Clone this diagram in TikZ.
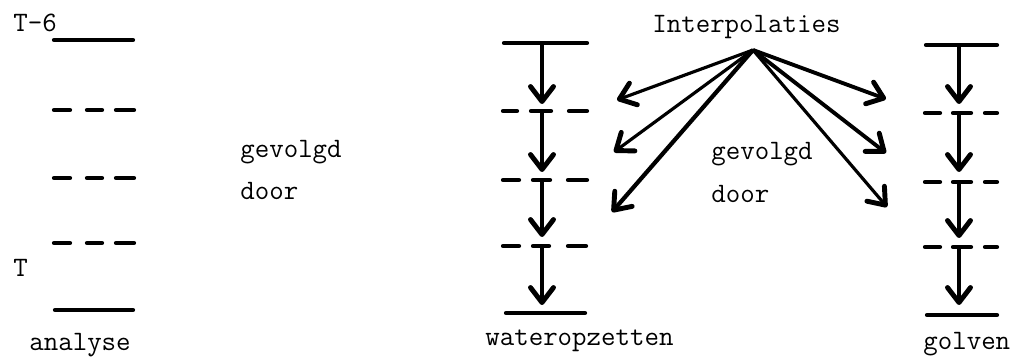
\documentclass[tikz,border=0pt]{standalone}
\usetikzlibrary{arrows.meta}
\begin{document}
\begin{tikzpicture}[x=0.02cm,y=-0.02cm,
  lvl/.style={line width=2.4pt,line cap=round},
  arr/.style={line width=2pt,-{Straight Barb[length=0.3cm,width=0.46cm,line width=2.8pt,round]}},
  fan/.style={line width=1.8pt,-{Straight Barb[length=0.3cm,width=0.46cm,line width=2.8pt,round]}},
  lab/.style={anchor=base west,inner sep=0pt,font=\fontsize{16}{19}\selectfont\ttfamily}]
\useasboundingbox (0,0) rectangle (1022,361);
% ---------- left column: analyse ----------
\node[lab] (t6) at (13,32) {T-6};
\node[lab] (tt) at (13,277) {T};
\node[lab] (an) at (29,351) {analyse};
\draw[lvl] (54,40) -- (133,40);
\foreach \y in {110,178,243}{
  \draw[lvl] (54,\y) -- (70,\y) (87,\y) -- (102,\y) (116,\y) -- (134,\y);
}
\draw[lvl] (55,310) -- (133,310);
\node[lab] (g1) at (240,158) {gevolgd};
\node[lab] (d1) at (240,200) {door};
% ---------- middle column: wateropzetten ----------
\draw[lvl] (504,43) -- (587,43);
\draw[lvl] (503,111) -- (517,111) (531,111) -- (551,111) (569,111) -- (587,111);
\draw[lvl] (503,180) -- (519,180) (533,180) -- (550,180) (568,180) -- (587,180);
\draw[lvl] (503,246) -- (519,246) (533,246) -- (549,246) (568,246) -- (586,246);
\draw[lvl] (506,313) -- (585,313);
\coordinate (m0) at (542,43);  \coordinate (m1) at (542,104);
\coordinate (m2) at (542,111); \coordinate (m3) at (542,172);
\coordinate (m4) at (542,180); \coordinate (m5) at (542,237);
\coordinate (m6) at (542,246); \coordinate (m7) at (542,305);
\draw[arr] (m0) -- (m1);
\draw[arr] (m2) -- (m3);
\draw[arr] (m4) -- (m5);
\draw[arr] (m6) -- (m7);
\node[lab] (wo) at (485,346) {wateropzetten};
% ---------- right column: golven ----------
\draw[lvl] (926,45) -- (997,45);
\draw[lvl] (925,113) -- (940,113) (953,113) -- (971,113) (985,113) -- (997,113);
\draw[lvl] (925,182) -- (940,182) (953,182) -- (971,182) (985,182) -- (997,182);
\draw[lvl] (925,247) -- (940,247) (953,247) -- (971,247) (985,247) -- (997,247);
\draw[lvl] (927,315) -- (997,315);
\coordinate (r0) at (959,45);  \coordinate (r1) at (959,104);
\coordinate (r2) at (959,113); \coordinate (r3) at (959,172);
\coordinate (r4) at (959,182); \coordinate (r5) at (959,238);
\coordinate (r6) at (959,247); \coordinate (r7) at (959,305);
\draw[arr] (r0) -- (r1);
\draw[arr] (r2) -- (r3);
\draw[arr] (r4) -- (r5);
\draw[arr] (r6) -- (r7);
\node[lab] (go) at (923,350) {golven};
% ---------- interpolaties fan ----------
\node[lab] (ip) at (652,33) {Interpolaties};
\coordinate (o) at (753,50);
\coordinate (l1) at (617,100);
\coordinate (l2) at (614,152);
\coordinate (l3) at (612,212);
\coordinate (q1) at (886,99);
\coordinate (q2) at (886,153);
\coordinate (q3) at (887,207);
\draw[fan] (o) -- (l1);
\draw[fan] (o) -- (l2);
\draw[fan,line width=2.4pt] (o) -- (l3);
\draw[fan,line width=2.2pt] (o) -- (q1);
\draw[fan,line width=2.2pt] (o) -- (q2);
\draw[fan] (o) -- (q3);
\node[lab] (g2) at (711,160) {gevolgd};
\node[lab] (d2) at (711,203) {door};
\end{tikzpicture}
\end{document}
